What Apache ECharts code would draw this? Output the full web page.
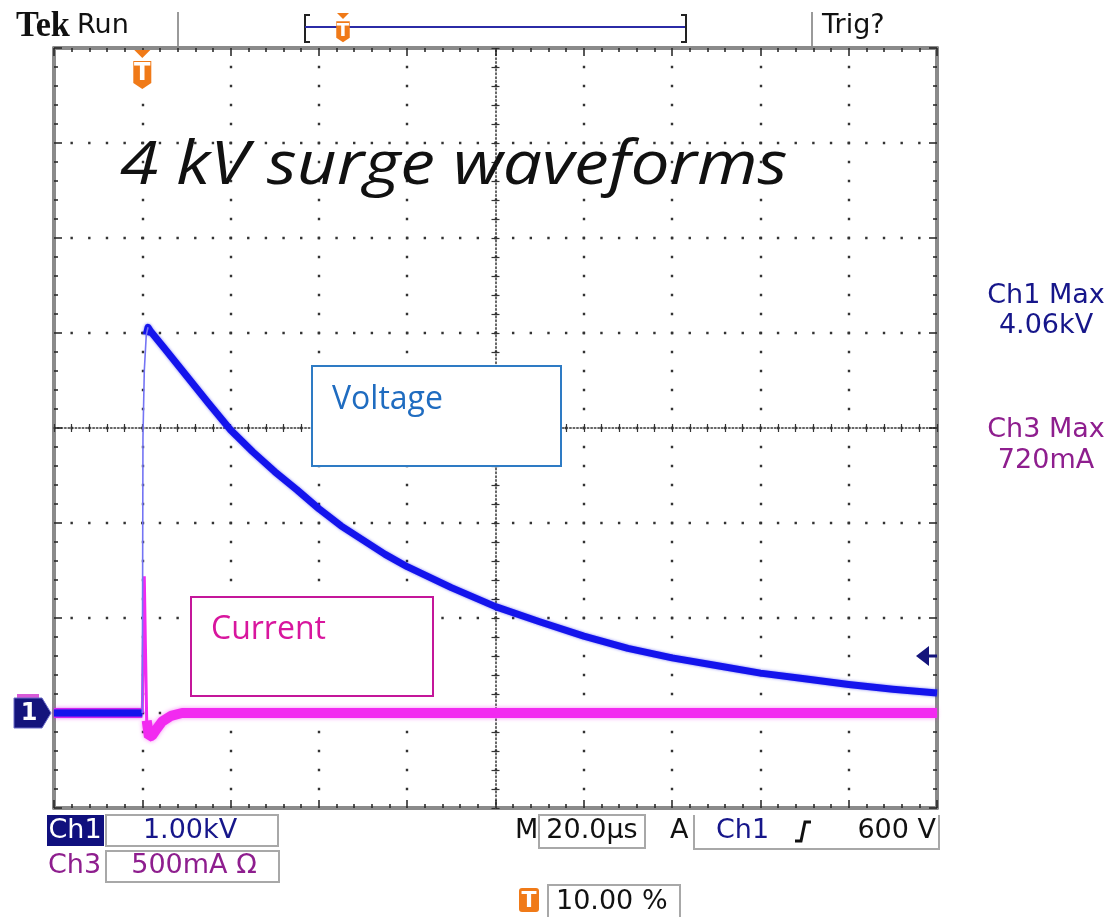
<!DOCTYPE html>
<html>
<head>
<meta charset="utf-8">
<title>4 kV surge waveforms</title>
<script src="https://cdn.jsdelivr.net/npm/echarts@6/dist/echarts.min.js"></script>
<style>
  html, body { margin: 0; padding: 0; background: #ffffff; }
  #chart { width: 1111px; height: 917px; }
</style>
</head>
<body>
<div id="chart"></div>
<script>
// ---- Captured data ----
// Ch1: surge voltage, time in µs, voltage in kV (1.00 kV/div)
const timeV = [-20, -15, -10, -5, 0, 0.15, 0.45, 0.9, 1.3, 2, 5, 10, 15, 20, 25, 30, 35, 40, 45, 50, 55, 60, 70, 80, 90, 100, 110, 120, 130, 140, 150, 160, 170, 180];
const voltageKV = [0, 0, 0, 0, 0, 2.9, 3.6, 3.98, 4.06, 4.01, 3.84, 3.55, 3.26, 2.98, 2.75, 2.54, 2.35, 2.15, 1.97, 1.82, 1.67, 1.54, 1.32, 1.12, 0.96, 0.81, 0.68, 0.58, 0.50, 0.42, 0.36, 0.30, 0.25, 0.21];

// Ch3: surge current, time in µs, current in mA (500 mA/div)
const timeI = [-20, -10, 0, 0.2, 0.45, 0.7, 1.0, 1.5, 2.2, 3.2, 4.5, 6.5, 9, 20, 40, 60, 80, 100, 120, 140, 160, 180];
const currentMA = [0, 0, 0, 320, 720, 360, -40, -125, -120, -85, -45, -15, 0, 0, 0, 0, 0, 0, 0, 0, 0, 0];

// Horizontal / vertical scale settings (10 x 8 divisions)
const timeRange = { min: -20, max: 180, step: 20 };      // 20.0 µs/div, trigger at 10 %
const voltRange = { min: -1, max: 7, step: 1 };          // 1.00 kV/div
const currRange = { min: -500, max: 3500, step: 500 };   // 500 mA/div
const triggerLevelKV = 0.6;                              // 600 V

// Readouts
const ch1Max = '4.06kV';
const ch3Max = '720mA';

// ---- Layout ----
const G = { left: 54, top: 48, width: 883, height: 760 };
const divX = G.width / 10, divY = G.height / 8;
const UI_FONT = '"DejaVu Sans", Verdana, sans-serif';
const TEXT_FONT = '"Open Sans", Lato, sans-serif';
const FRAME = '#8a8a8a', DOT = '#333333';
const NAVY = '#16168a', PURPLE = '#8e1e8e', ORANGE = '#f07a18';

const chart = echarts.init(document.getElementById('chart'), null, { renderer: 'canvas' });

function pairs(xs, ys, keep) {
  return xs.map((t, i) => (keep(t) ? [t, ys[i]] : [t, '-']));
}

function frameAxis(pos, range, extra) {
  return Object.assign({
    type: 'value', position: pos, min: range.min, max: range.max, interval: range.step,
    axisLine: { show: true, onZero: false, lineStyle: { color: FRAME, width: 4 } },
    axisTick: { show: true, inside: true, length: 8, lineStyle: { color: '#222', width: 1.5 } },
    minorTick: { show: true, splitNumber: 5, length: 4, lineStyle: { color: '#222', width: 1.5 } },
    axisLabel: { show: false },
    splitLine: { show: false },
    minorSplitLine: { show: false }
  }, extra || {});
}

function centerAxis(pos, range, offset, dotGap, inside, showLine) {
  return {
    type: 'value', position: pos, offset: offset, min: range.min, max: range.max, interval: range.step,
    axisLine: { show: showLine, onZero: false, lineStyle: { color: DOT, width: 1.5, type: [1.5, dotGap] } },
    axisTick: { show: true, inside: inside, length: 4, lineStyle: { color: '#333', width: 1.2 } },
    minorTick: { show: true, splitNumber: 5, length: 4, lineStyle: { color: '#333', width: 1.2 } },
    axisLabel: { show: false },
    splitLine: { show: false }
  };
}

const xAxes = [
  frameAxis('bottom', timeRange, {
    splitLine: { show: true, lineStyle: { color: DOT, width: 2.4, type: [2.4, divY / 5 - 2.4], dashOffset: 1.2 } }
  }),
  frameAxis('top', timeRange),
  centerAxis('bottom', timeRange, -4 * divY, divX / 25 - 1.5, true, true),
  centerAxis('bottom', timeRange, -4 * divY, divX / 25 - 1.5, false, false)
];

const yAxes = [
  frameAxis('left', voltRange, {
    splitLine: { show: true, lineStyle: { color: DOT, width: 2.4, type: [2.4, divX / 5 - 2.4], dashOffset: 1.2 } }
  }),
  { type: 'value', show: false, min: currRange.min, max: currRange.max, interval: currRange.step },
  frameAxis('right', voltRange),
  centerAxis('left', voltRange, -5 * divX, divY / 25 - 1.5, true, true),
  centerAxis('left', voltRange, -5 * divX, divY / 25 - 1.5, false, false)
];

const BLUE = '#1414ec', MAGENTA = '#f22af0';

const option = {
  animation: false,
  backgroundColor: '#ffffff',
  grid: { left: G.left, top: G.top, width: G.width, height: G.height, containLabel: false, show: false },
  xAxis: xAxes,
  yAxis: yAxes,
  series: [
    // Ch3 current: noisy band and fast spike
    {
      name: 'Current', type: 'line', xAxisIndex: 0, yAxisIndex: 1, symbol: 'none', z: 3,
      data: pairs(timeI, currentMA, t => t <= 0 || t >= 1.0),
      connectNulls: false,
      lineStyle: { color: MAGENTA, width: 10, shadowColor: 'rgba(242,42,240,0.55)', shadowBlur: 4 }
    },
    {
      name: 'Current spike', type: 'line', xAxisIndex: 0, yAxisIndex: 1, symbol: 'none', z: 3,
      data: pairs(timeI, currentMA, t => t >= 0 && t <= 1.5).filter(p => p[1] !== '-'),
      lineStyle: { color: MAGENTA, width: 3 }
    },
    // Ch1 voltage: noisy band and fast rise
    {
      name: 'Voltage', type: 'line', xAxisIndex: 0, yAxisIndex: 0, symbol: 'none', z: 4,
      data: pairs(timeV, voltageKV, t => t <= 0 || t >= 0.9),
      connectNulls: false,
      lineStyle: { color: BLUE, width: 7, shadowColor: 'rgba(20,20,236,0.55)', shadowBlur: 3, join: 'round' }
    },
    {
      name: 'Voltage rise', type: 'line', xAxisIndex: 0, yAxisIndex: 0, symbol: 'none', z: 4,
      data: pairs(timeV, voltageKV, t => t >= 0 && t <= 1.3).filter(p => p[1] !== '-'),
      lineStyle: { color: '#7474f4', width: 1.6 }
    }
  ]
};

chart.setOption(option);

// ---- Instrument annotations ----
const x0 = chart.convertToPixel({ xAxisIndex: 0 }, 0);
const yGnd = chart.convertToPixel({ yAxisIndex: 0 }, 0);
const yTrig = chart.convertToPixel({ yAxisIndex: 0 }, triggerLevelKV);

function txt(x, y, s, opt, extra) {
  return Object.assign({
    type: 'text', x: x, y: y, z: 20,
    style: Object.assign({
      text: s, fontFamily: UI_FONT, fontSize: 27, fill: '#111', align: 'left', verticalAlign: 'middle'
    }, opt || {})
  }, extra || {});
}
function box(x, y, w, h, stroke, lw, fill) {
  return {
    type: 'rect', z: 15, shape: { x: x, y: y, width: w, height: h },
    style: { fill: fill || 'none', stroke: stroke, lineWidth: lw }
  };
}
function tMarker(cx, top, scale) {
  // small trigger triangle over a shield with a "T"
  const s = scale;
  return [
    { type: 'polygon', z: 20, shape: { points: [[cx - 8 * s, top], [cx + 8 * s, top], [cx, top + 8 * s]] }, style: { fill: ORANGE } },
    { type: 'polygon', z: 20, shape: { points: [[cx - 9 * s, top + 11 * s], [cx + 9 * s, top + 11 * s], [cx + 9 * s, top + 33 * s], [cx, top + 39 * s], [cx - 9 * s, top + 33 * s]] }, style: { fill: ORANGE } },
    { type: 'text', z: 21, x: cx, y: top + 24 * s, style: { text: 'T', fontFamily: UI_FONT, fontWeight: 'bold', fontSize: 24 * s, fill: '#fff', align: 'center', verticalAlign: 'middle' } }
  ];
}

const graphics = [
  // top status bar
  txt(16, 27, 'Tek', { fontFamily: '"Liberation Serif", "DejaVu Serif", serif', fontWeight: 'bold', fontSize: 36 }, { scaleX: 0.95 }),
  txt(77, 26, 'Run'),
  { type: 'line', z: 15, shape: { x1: 178, y1: 12, x2: 178, y2: 46 }, style: { stroke: '#9a9a9a', lineWidth: 2 } },
  { type: 'polyline', z: 15, shape: { points: [[310, 15], [305, 15], [305, 42], [310, 42]] }, style: { stroke: '#222', lineWidth: 2, fill: 'none' } },
  { type: 'line', z: 15, shape: { x1: 305, y1: 27, x2: 686, y2: 27 }, style: { stroke: '#2b2ba6', lineWidth: 2 } },
  { type: 'polyline', z: 15, shape: { points: [[681, 15], [686, 15], [686, 42], [681, 42]] }, style: { stroke: '#222', lineWidth: 2, fill: 'none' } },
  ...tMarker(343, 13, 0.75),
  { type: 'line', z: 15, shape: { x1: 812, y1: 12, x2: 812, y2: 46 }, style: { stroke: '#9a9a9a', lineWidth: 2 } },
  txt(822, 26, 'Trig?'),

  // trigger position marker on the graticule
  ...tMarker(x0, G.top + 2, 1.0),

  // channel ground markers
  { type: 'rect', z: 19, shape: { x: 17, y: yGnd - 19, width: 22, height: 4 }, style: { fill: '#d85ad8' } },
  { type: 'polygon', z: 20, shape: { points: [[14, yGnd - 15], [42, yGnd - 15], [51, yGnd], [42, yGnd + 15], [14, yGnd + 15]] }, style: { fill: '#14147c', stroke: '#6c6cc8', lineWidth: 1 } },
  { type: 'text', z: 21, x: 29, y: yGnd + 1, style: { text: '1', fontFamily: UI_FONT, fontWeight: 'bold', fontSize: 24, fill: '#fff', align: 'center', verticalAlign: 'middle' } },

  // trigger level arrow
  { type: 'polygon', z: 20, shape: { points: [[916, yTrig], [929, yTrig - 10], [929, yTrig + 10]] }, style: { fill: '#14147c' } },
  { type: 'line', z: 20, shape: { x1: 926, y1: yTrig, x2: 937, y2: yTrig }, style: { stroke: '#14147c', lineWidth: 3 } },

  // title and trace callouts
  txt(120, 167, '4 kV surge waveforms', { fontFamily: TEXT_FONT, fontStyle: 'italic', fontSize: 61, fill: '#111' }, { scaleX: 1.14 }),
  box(312, 366, 249, 100, '#2e7bc4', 2, '#ffffff'),
  txt(332, 400, 'Voltage', { fontFamily: TEXT_FONT, fontSize: 32, fill: '#1f6cc0' }),
  box(191, 597, 242, 99, '#c4169a', 2, '#ffffff'),
  txt(211, 630, 'Current', { fontFamily: TEXT_FONT, fontSize: 32, fill: '#d8169e' }),

  // measurement readouts
  txt(1046, 296, 'Ch1 Max', { fill: NAVY, align: 'center' }),
  txt(1046, 326, ch1Max, { fill: NAVY, align: 'center' }),
  txt(1046, 430, 'Ch3 Max', { fill: PURPLE, align: 'center' }),
  txt(1046, 461, ch3Max, { fill: PURPLE, align: 'center' }),

  // vertical settings
  { type: 'rect', z: 15, shape: { x: 47, y: 815, width: 57, height: 31 }, style: { fill: '#10107e' } },
  txt(75, 831, 'Ch1', { fill: '#ffffff', align: 'center' }),
  box(106, 815, 172, 31, '#a8a8a8', 2),
  txt(190, 831, '1.00kV', { fill: NAVY, align: 'center' }),
  txt(48, 866, 'Ch3', { fill: PURPLE }),
  box(106, 851, 173, 31, '#a8a8a8', 2),
  txt(194, 866, '500mA Ω', { fill: PURPLE, align: 'center' }),

  // horizontal / trigger settings
  txt(515, 831, 'M'),
  box(539, 815, 106, 33, '#a8a8a8', 2),
  txt(592, 831, '20.0µs', { align: 'center' }),
  txt(670, 831, 'A'),
  { type: 'polyline', z: 15, shape: { points: [[694, 815], [694, 849], [939, 849], [939, 815]] }, style: { stroke: '#a8a8a8', lineWidth: 2, fill: 'none' } },
  txt(716, 831, 'Ch1', { fill: NAVY }),
  { type: 'polyline', z: 20, shape: { points: [[795, 841], [801, 841], [805, 822], [811, 822]] }, style: { stroke: '#111', lineWidth: 3, fill: 'none' } },
  txt(936, 831, '600 V', { align: 'right' }),

  // trigger position readout
  { type: 'rect', z: 15, shape: { x: 519, y: 888, width: 20, height: 24, r: 3 }, style: { fill: ORANGE } },
  { type: 'text', z: 16, x: 529, y: 901, style: { text: 'T', fontFamily: UI_FONT, fontWeight: 'bold', fontSize: 22, fill: '#fff', align: 'center', verticalAlign: 'middle' } },
  box(548, 885, 132, 34, '#a8a8a8', 2),
  txt(556, 902, '10.00 %')
];

chart.setOption({ graphic: graphics });
</script>
</body>
</html>
